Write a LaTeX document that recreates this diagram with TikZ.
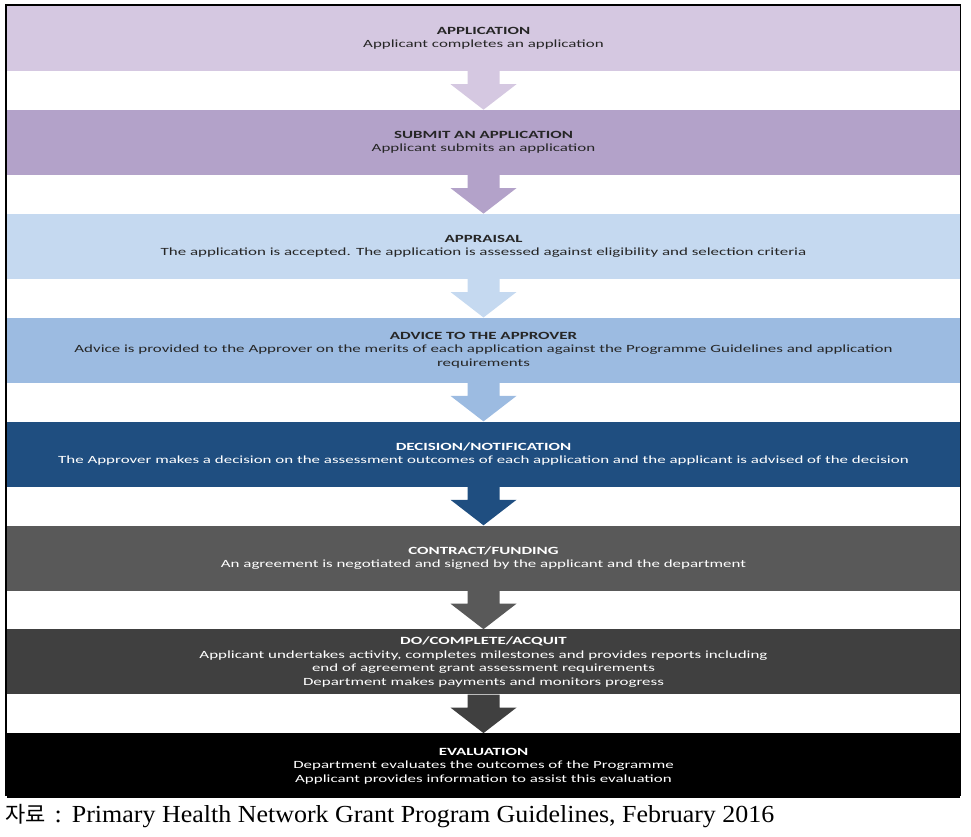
\documentclass[tikz,border=0pt]{standalone}
\usepackage{fontspec}
\usepackage{tikz}
\usetikzlibrary{positioning}
\newfontfamily\boxfont{Carlito}[FakeStretch=1.54]
\newfontfamily\capfont{Liberation Serif}[FakeStretch=1.06]
\newfontfamily\krfont{Noto Sans CJK KR}
\definecolor{stagea}{RGB}{213,200,225}
\definecolor{stageb}{RGB}{179,162,201}
\definecolor{stagec}{RGB}{197,217,240}
\definecolor{staged}{RGB}{156,187,225}
\definecolor{stagee}{RGB}{31,78,128}
\definecolor{stagef}{RGB}{89,89,89}
\definecolor{stageg}{RGB}{64,64,64}
\definecolor{stageh}{RGB}{0,0,0}
\newcommand\flowarrow[3]{%
  \fill[#3] ([xshift=-16pt]#1.south) -- ([xshift=-16pt,yshift=-13pt]#1.south)
    -- ([xshift=-33pt,yshift=-13pt]#1.south) -- (#2.north)
    -- ([xshift=33pt,yshift=-13pt]#1.south) -- ([xshift=16pt,yshift=-13pt]#1.south)
    -- ([xshift=16pt]#1.south) -- cycle;}

\begin{document}
\begin{tikzpicture}[x=1pt,y=-1pt,node distance=38.5pt,
  band/.style={rectangle,fill=#1,minimum width=953pt,minimum height=65pt,inner sep=0pt,
    align=center,font=\boxfont\fontsize{11}{13.5}\selectfont,text=black!85},
  dark/.style={band=#1,text=white}]
\useasboundingbox (0,0) rectangle (971,837);
\node [band=stagea] (appl) at (483.5,38.5) {\textbf{APPLICATION}\\Applicant completes an application};
\node [band=stageb, below=of appl] (subm) {\textbf{SUBMIT AN APPLICATION}\\Applicant submits an application};
\node [band=stagec, below=of subm] (appr) {\textbf{APPRAISAL}\\The application is accepted. The application is assessed against eligibility and selection criteria};
\node [band=staged, below=of appr] (advi) {\textbf{ADVICE TO THE APPROVER}\\Advice is provided to the Approver on the merits of each application against the Programme Guidelines and application\\requirements};
\node [dark=stagee, below=of advi] (deci) {\textbf{DECISION/NOTIFICATION}\\The Approver makes a decision on the assessment outcomes of each application and the applicant is advised of the decision};
\node [dark=stagef, below=of deci] (cont) {\textbf{CONTRACT/FUNDING}\\An agreement is negotiated and signed by the applicant and the department};
\node [dark=stageg, below=of cont] (acqu) {\textbf{DO/COMPLETE/ACQUIT}\\Applicant undertakes activity, completes milestones and provides reports including\\end of agreement grant assessment requirements\\Department makes payments and monitors progress};
\node [dark=stageh, below=of acqu] (eval) {\textbf{EVALUATION}\\Department evaluates the outcomes of the Programme\\Applicant provides information to assist this evaluation};
\flowarrow{appl}{subm}{stagea}
\flowarrow{subm}{appr}{stageb}
\flowarrow{appr}{advi}{stagec}
\flowarrow{advi}{deci}{staged}
\flowarrow{deci}{cont}{stagee}
\flowarrow{cont}{acqu}{stagef}
\flowarrow{acqu}{eval}{stageg}
\draw [line width=1.2pt] (6,5) rectangle (960.5,795);
\node [anchor=base west,inner sep=0pt] (src) at (5,822) {{\krfont\fontsize{22}{26}\selectfont 자료}{\capfont\fontsize{24.5}{28}\selectfont\hspace{9pt}:\hspace{10pt}Primary Health Network Grant Program Guidelines, February 2016}};
\end{tikzpicture}
\end{document}
